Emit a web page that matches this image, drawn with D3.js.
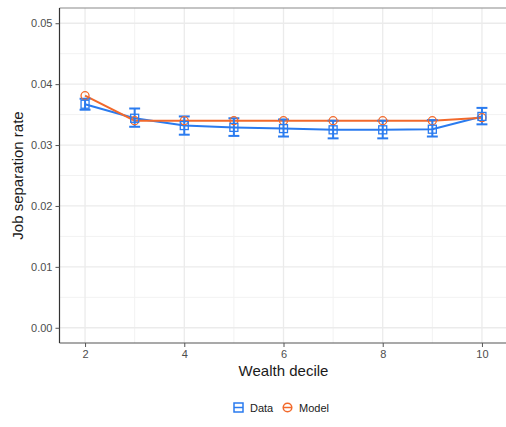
<!DOCTYPE html>
<html>
<head>
<style>
  body { margin: 0; background: #fff; }
  text { font-family: "Liberation Sans", Arial, sans-serif; }
</style>
<script src="https://d3js.org/d3.v7.min.js"></script>
</head>
<body>
<svg width="506" height="427"></svg>
<script>
var deciles = [2, 3, 4, 5, 6, 7, 8, 9, 10];
var dataRate = [0.0367, 0.0344, 0.0332, 0.0329, 0.0327, 0.0325, 0.0325, 0.0326, 0.0347];
var dataLow = [0.0358, 0.0330, 0.0317, 0.0315, 0.0314, 0.0311, 0.0311, 0.0314, 0.0334];
var dataHigh = [0.0376, 0.0360, 0.0347, 0.0344, 0.0342, 0.0340, 0.0340, 0.0341, 0.0361];
var modelRate = [0.0381, 0.0340, 0.0340, 0.0340, 0.0340, 0.0340, 0.0340, 0.0340, 0.0345];
var xTicks = [2, 4, 6, 8, 10];
var yTicks = [0, 0.01, 0.02, 0.03, 0.04, 0.05];

var blue = "#2a7bef", orange = "#f2692b";

var svg = d3.select("svg");
var pLeft = 59.5, pTop = 8, pRight = 507.5, pBottom = 343;

var x = d3.scaleLinear().domain([1.485, 10.515]).range([pLeft, pRight]);
var y = d3.scaleLinear().domain([-0.0025, 0.0525]).range([pBottom, pTop]);

// panel grid
var g = svg.append("g");
g.selectAll(".vminor").data([3, 5, 7, 9]).enter().append("line")
  .attr("x1", d => x(d)).attr("x2", d => x(d)).attr("y1", pTop).attr("y2", pBottom)
  .attr("stroke", "#f2f2f2").attr("stroke-width", 1);
g.selectAll(".hminor").data([0.005, 0.015, 0.025, 0.035, 0.045]).enter().append("line")
  .attr("x1", pLeft).attr("x2", pRight).attr("y1", d => y(d)).attr("y2", d => y(d))
  .attr("stroke", "#f2f2f2").attr("stroke-width", 1);
g.selectAll(".vmajor").data(xTicks).enter().append("line")
  .attr("x1", d => x(d)).attr("x2", d => x(d)).attr("y1", pTop).attr("y2", pBottom)
  .attr("stroke", "#ebebeb").attr("stroke-width", 1.3);
g.selectAll(".hmajor").data(yTicks).enter().append("line")
  .attr("x1", pLeft).attr("x2", pRight).attr("y1", d => y(d)).attr("y2", d => y(d))
  .attr("stroke", "#ebebeb").attr("stroke-width", 1.3);

// border top
svg.append("line").attr("x1", pLeft).attr("x2", pRight).attr("y1", pTop).attr("y2", pTop)
  .attr("stroke", "#8a8a8a").attr("stroke-width", 1.2);

// axes
var xAxis = svg.append("g").attr("transform", "translate(0," + pBottom + ")")
  .call(d3.axisBottom(x).tickValues(xTicks).tickSize(4).tickPadding(3).tickFormat(d3.format("d")));
var yAxis = svg.append("g").attr("transform", "translate(" + pLeft + ",0)")
  .call(d3.axisLeft(y).tickValues(yTicks).tickSize(4).tickPadding(3).tickFormat(d3.format(".2f")));
[xAxis, yAxis].forEach(function(a) {
  a.select(".domain").attr("stroke", "#555").attr("stroke-width", 1.2);
  a.selectAll(".tick line").attr("stroke", "#555");
  a.selectAll(".tick text").attr("fill", "#4d4d4d").style("font-size", "11px")
    .style("font-family", "Liberation Sans, Arial, sans-serif");
});
xAxis.select(".domain").attr("d", "M" + pLeft + ",0H" + pRight);
yAxis.select(".domain").attr("d", "M0," + pTop + "V" + pBottom).attr("stroke", "#333");

svg.append("text").attr("x", x(6)).attr("y", 376).attr("text-anchor", "middle")
  .style("font-size", "15px").attr("fill", "#1a1a1a").text("Wealth decile");
svg.append("text").attr("transform", "translate(23," + ((pTop + pBottom) / 2) + ") rotate(-90)")
  .attr("text-anchor", "middle").style("font-size", "15px").attr("fill", "#1a1a1a")
  .text("Job separation rate");

// series
var rows = deciles.map(function(d, i) {
  return { d: d, v: dataRate[i], lo: dataLow[i], hi: dataHigh[i], m: modelRate[i] };
});

svg.append("path").datum(rows).attr("fill", "none").attr("stroke", blue).attr("stroke-width", 2)
  .attr("d", d3.line().x(r => x(r.d)).y(r => y(r.v)));
svg.append("path").datum(rows).attr("fill", "none").attr("stroke", orange).attr("stroke-width", 2)
  .attr("d", d3.line().x(r => x(r.d)).y(r => y(r.m)));

// error bars
var cap = 0.11;
var eb = svg.append("g").attr("stroke", blue).attr("stroke-width", 2).attr("fill", "none");
eb.selectAll(".v").data(rows).enter().append("line")
  .attr("x1", r => x(r.d)).attr("x2", r => x(r.d)).attr("y1", r => y(r.lo)).attr("y2", r => y(r.hi));
eb.selectAll(".t").data(rows).enter().append("line")
  .attr("x1", r => x(r.d - cap)).attr("x2", r => x(r.d + cap)).attr("y1", r => y(r.hi)).attr("y2", r => y(r.hi));
eb.selectAll(".b").data(rows).enter().append("line")
  .attr("x1", r => x(r.d - cap)).attr("x2", r => x(r.d + cap)).attr("y1", r => y(r.lo)).attr("y2", r => y(r.lo));

// points
svg.selectAll(".mpt").data(rows).enter().append("circle")
  .attr("cx", r => x(r.d)).attr("cy", r => y(r.m)).attr("r", 4)
  .attr("fill", "none").attr("stroke", orange).attr("stroke-width", 1.3);
svg.selectAll(".dpt").data(rows).enter().append("rect")
  .attr("x", r => x(r.d) - 4).attr("y", r => y(r.v) - 4).attr("width", 8).attr("height", 8)
  .attr("fill", "none").attr("stroke", blue).attr("stroke-width", 1.3);

// legend
var leg = svg.append("g").attr("transform", "translate(0,408)");
leg.append("rect").attr("x", 234).attr("y", -5).attr("width", 9).attr("height", 9)
  .attr("fill", "none").attr("stroke", blue).attr("stroke-width", 1.5);
leg.append("line").attr("x1", 234).attr("x2", 243).attr("y1", -0.5).attr("y2", -0.5)
  .attr("stroke", blue).attr("stroke-width", 1.5);
leg.append("text").attr("x", 250).attr("y", 4).style("font-size", "11px").attr("fill", "#1a1a1a").text("Data");
leg.append("circle").attr("cx", 287.5).attr("cy", -0.5).attr("r", 4.3)
  .attr("fill", "none").attr("stroke", orange).attr("stroke-width", 1.5);
leg.append("line").attr("x1", 283).attr("x2", 292).attr("y1", -0.5).attr("y2", -0.5)
  .attr("stroke", orange).attr("stroke-width", 1.5);
leg.append("text").attr("x", 299).attr("y", 4).style("font-size", "11px").attr("fill", "#1a1a1a").text("Model");
</script>
</body>
</html>
